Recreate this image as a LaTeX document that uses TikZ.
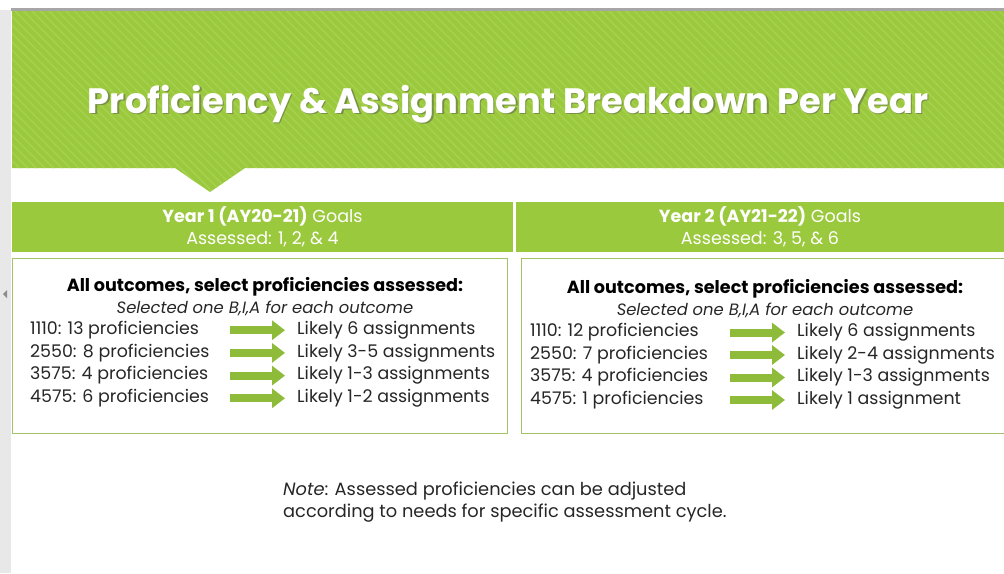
\documentclass[tikz,border=0pt]{standalone}
\usepackage{fontspec}
\setmainfont{Poppins}[Numbers=Monospaced]
\usetikzlibrary{positioning,arrows.meta,patterns.meta}
\definecolor{banner}{HTML}{9BC93D}
\definecolor{stripe}{HTML}{A6D04E}
\definecolor{boxline}{HTML}{A3C266}
\definecolor{txt}{HTML}{262626}
\definecolor{arrowgreen}{HTML}{8FBB3B}

\tikzset{
  titletext/.style={text=white, font=\fontsize{35.3}{40}\selectfont\bfseries},
  headbar/.style={fill=banner, text=white, align=center, inner sep=0,
    font=\fontsize{17.5}{22}\selectfont},
  outbox/.style={draw=boxline, line width=1pt, inner sep=0},
  headtext/.style={text=black, font=\fontsize{17.6}{20}\selectfont\bfseries},
  subtext/.style={text=txt, font=\fontsize{16.4}{18}\selectfont\itshape},
  rowtext/.style={anchor=west, inner sep=0, text=txt, font=\fontsize{17.4}{19}\selectfont},
  blockarrow/.style={arrowgreen, line width=8pt, -{Triangle[width=19pt,length=13pt]}}
}

\begin{document}
\begin{tikzpicture}[x=1pt,y=-1pt]
\useasboundingbox (0,0) rectangle (1004,573);
% window edges
\fill[black!9] (0,10) rectangle (11,573);
\fill[black!35] (11,8) rectangle (1004,11);
\fill[black!45] (7,290) -- (7,298) -- (3,294) -- cycle;
% title banner with notch
\fill[banner] (12,11) -- (1004,11) -- (1004,168) -- (245,168) -- (210,192) -- (175,168) -- (12,168) -- cycle;
\fill[pattern={Lines[angle=-45,distance=6pt,line width=1.5pt]}, pattern color=stripe]
  (12,11) -- (1004,11) -- (1004,168) -- (245,168) -- (210,192) -- (175,168) -- (12,168) -- cycle;
\node[titletext, text=black!70, opacity=.45] at (509.5,105.5) {Proficiency \& Assignment Breakdown Per Year};
\node[titletext] (title) at (508,104) {Proficiency \& Assignment Breakdown Per Year};
% year headers
\node[headbar, minimum width=501pt, minimum height=50pt] (hA) at (262.5,227)
  {\textbf{Year 1 (AY20-21)} Goals\\Assessed: 1, 2, \& 4};
\node[headbar, minimum width=488pt, minimum height=50pt] (hB) at (760,227)
  {\textbf{Year 2 (AY21-22)} Goals\\Assessed: 3, 5, \& 6};
% boxes
\node[outbox, minimum width=495pt, minimum height=175pt] (bA) at (259.5,345.5) {};
\node[outbox, minimum width=490pt, minimum height=175pt] (bB) at (766,345.5) {};
\node[headtext] (tA) at (265,287) {All outcomes, select proficiencies assessed:};
\node[subtext] (sA) at (265,308) {Selected one B,I,A for each outcome};
\node[headtext] (tB) at (765,289) {All outcomes, select proficiencies assessed:};
\node[subtext] (sB) at (765,310) {Selected one B,I,A for each outcome};
\coordinate (aA) at (230,0);
\coordinate (aB) at (730,0);
\foreach \n/\l [count=\i] in {1110: 13 proficiencies/Likely 6 assignments,
    2550: 8 proficiencies/Likely 3-5 assignments,
    3575: 4 proficiencies/Likely 1-3 assignments,
    4575: 6 proficiencies/Likely 1-2 assignments} {
  \node[rowtext] (lA\i) at (30,{307.5+22.7*\i}) {\n};
  \node[rowtext] (rA\i) at (297,{307.5+22.7*\i}) {\l};
  \draw[blockarrow] (lA\i.west -| aA) -- ([xshift=-12pt]rA\i.west);
}
\foreach \n/\l [count=\i] in {1110: 12 proficiencies/Likely 6 assignments,
    2550: 7 proficiencies/Likely 2-4 assignments,
    3575: 4 proficiencies/Likely 1-3 assignments,
    4575: 1 proficiencies/Likely 1 assignment} {
  \node[rowtext] (lB\i) at (530,{310+22.5*\i}) {\n};
  \node[rowtext] (rB\i) at (797,{310+22.5*\i}) {\l};
  \draw[blockarrow] (lB\i.west -| aB) -- ([xshift=-12pt]rB\i.west);
}
% note
\node[rowtext, align=left, font=\fontsize{17.8}{22}\selectfont] (note) at (283,502)
  {\textit{Note}: Assessed proficiencies can be adjusted\\according to needs for specific assessment cycle.};
\end{tikzpicture}
\end{document}
